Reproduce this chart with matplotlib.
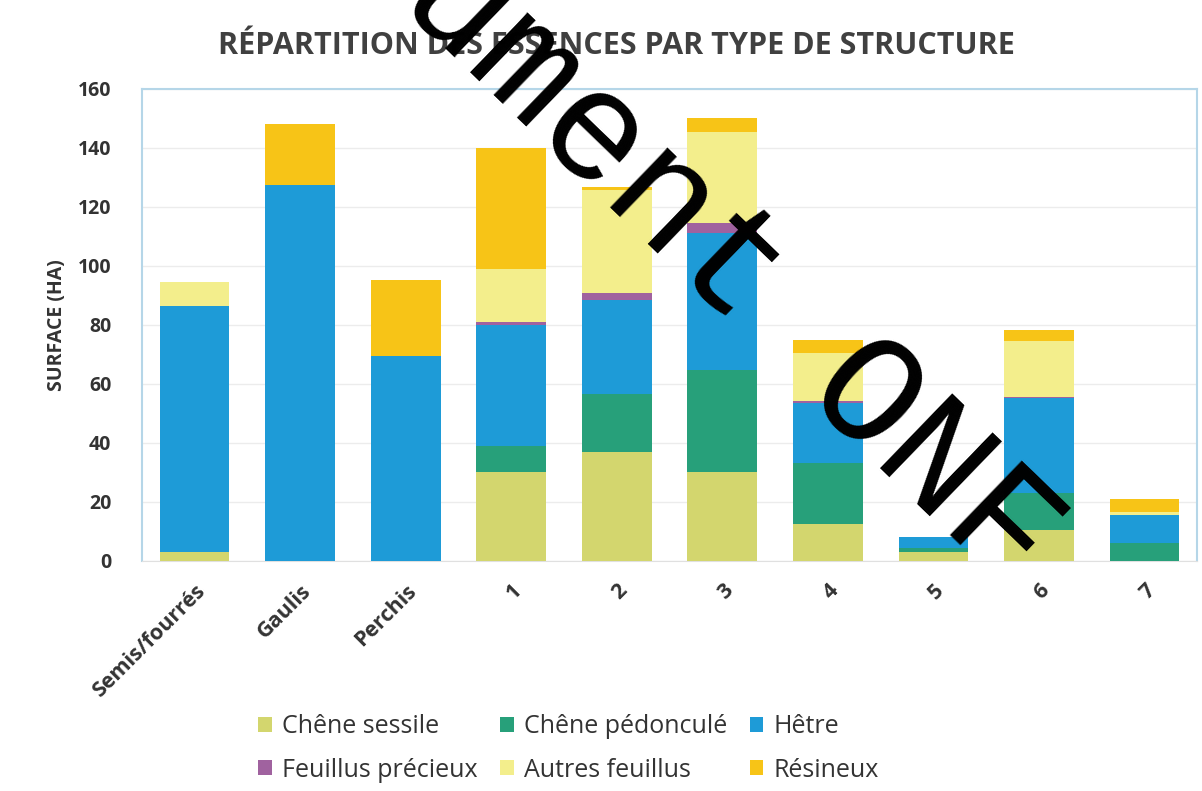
import matplotlib
matplotlib.use("Agg")
import matplotlib.pyplot as plt
import numpy as np

plt.rcParams['font.family'] = ['Open Sans', 'DejaVu Sans']

# data (surface in ha)
categories = ['Semis/fourrés', 'Gaulis', 'Perchis', '1', '2', '3', '4', '5', '6', '7']
chene_sessile = [3, 0, 0, 30, 37, 30, 12.5, 3, 10.5, 0]
chene_pedoncule = [0, 0, 0, 9, 19.5, 34.5, 20.5, 1.5, 12.5, 6]
hetre = [83.5, 127.5, 69.5, 41, 32, 46.5, 20.5, 3.5, 32, 9.6]
feuillus_precieux = [0, 0, 0, 1, 2.3, 3.4, 0.8, 0, 0.6, 0]
autres_feuillus = [8, 0, 0, 18, 35, 31, 16, 0, 19, 1]
resineux = [0, 20.5, 25.5, 41, 1, 4.5, 4.5, 0, 3.5, 4.5]

series = [
    ('Chêne sessile', chene_sessile, '#D3D66E'),
    ('Chêne pédonculé', chene_pedoncule, '#27A07A'),
    ('Hêtre', hetre, '#1E9BD7'),
    ('Feuillus précieux', feuillus_precieux, '#A0629F'),
    ('Autres feuillus', autres_feuillus, '#F3EE8C'),
    ('Résineux', resineux, '#F7C417'),
]

fig = plt.figure(figsize=(12.02, 7.91), dpi=100)
ax = fig.add_axes([0.118, 0.291, 0.878, 0.597])

x = np.arange(len(categories))
bottom = np.zeros(len(categories))
handles = {}
for name, vals, col in series:
    b = ax.bar(x, vals, 0.66, bottom=bottom, color=col, label=name, zorder=3)
    handles[name] = b
    bottom += np.array(vals)

ax.set_xlim(-0.5, len(categories) - 0.5)
ax.set_ylim(0, 160)
ax.set_yticks(range(0, 161, 20))
ax.yaxis.grid(True, color='#ececec', lw=1, zorder=0)
ax.tick_params(axis='both', length=0)
ax.tick_params(axis='y', pad=22, labelsize=14, labelcolor='#333333')
for t in ax.get_yticklabels():
    t.set_fontweight('bold')
ax.set_xticks(x)
ax.set_xticklabels(categories, rotation=45, ha='right', rotation_mode='anchor',
                   fontsize=15.5, color='#333333', fontweight='bold')
ax.tick_params(axis='x', pad=14)

for s in ['left', 'top', 'right']:
    ax.spines[s].set_color('#b5d6e8')
    ax.spines[s].set_linewidth(1.5)
ax.spines['bottom'].set_color('#e0e0e0')

ax.set_ylabel('SURFACE (HA)', fontsize=14, fontweight='bold', color='#333333', labelpad=8)

fig.text(0.513, 0.942, 'RÉPARTITION DES ESSENCES PAR TYPE DE STRUCTURE',
         ha='center', va='center', fontsize=22, fontweight='bold', color='#404040')

order = ['Chêne sessile', 'Feuillus précieux', 'Chêne pédonculé', 'Autres feuillus', 'Hêtre', 'Résineux']
fig.legend([handles[n] for n in order], order, ncol=3, loc='center',
           bbox_to_anchor=(0.473, 0.054), frameon=False, fontsize=18,
           handlelength=0.55, handleheight=0.55, handletextpad=0.4,
           columnspacing=0.9, labelspacing=0.75, labelcolor='#333333')

# watermark from the scanned document
fig.text(0.522, 0.787, 'Document ONF', family='Liberation Mono', fontsize=113,
         rotation=-44, rotation_mode='anchor', ha='center', va='center',
         color='black', zorder=10)

fig.savefig('out.png', dpi=100)
